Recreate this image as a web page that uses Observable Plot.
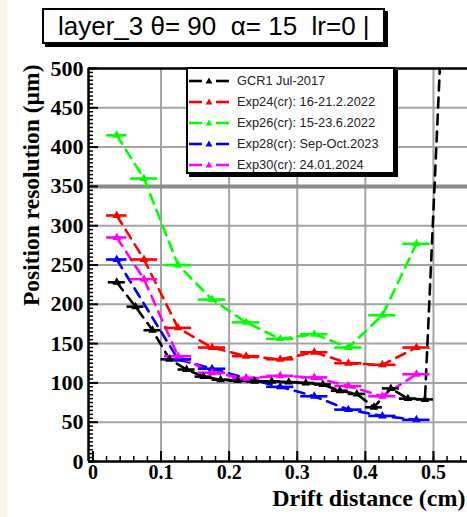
<!DOCTYPE html>
<html><head><meta charset="utf-8">
<script src="https://cdn.jsdelivr.net/npm/d3@7"></script>
<script src="https://cdn.jsdelivr.net/npm/@observablehq/plot@0.6"></script>
<style>
html,body{margin:0;padding:0;background:#fff;}
#wrap{position:relative;width:467px;height:517px;overflow:hidden;background:#fff;}
#chart{position:absolute;left:0;top:0;}
#title{position:absolute;left:42px;top:8px;width:325px;height:32px;border:2px solid #000;box-shadow:3px 3px 0 #000;background:#fff;
  font:26px "Liberation Sans",Arial,sans-serif;line-height:32px;padding-left:14px;white-space:pre;color:#000;}
#legend{position:absolute;left:186px;top:67px;width:205px;height:103px;border:2px solid #000;box-shadow:3px 3px 0 #000;background:#fff;}
.row{position:absolute;left:0;height:16px;width:205px;}
.row svg{position:absolute;left:1px;top:0;}
.row span{position:absolute;left:49px;top:0;line-height:16px;font:12.8px "Liberation Sans",Arial,sans-serif;color:#222;white-space:pre;}
.cream{position:absolute;background:#fdf6e8;}
</style></head>
<body>
<div id="wrap">
  <div id="chart"></div>
  <div id="title"></div>
  <div id="legend"></div>
  <div class="cream" style="left:0;top:0;width:7px;height:517px"></div>
</div>
<script>
// ---- data ----
const titleText = "layer_3 θ= 90  α= 15  lr=0 |";
const yTitle = "Position resolution (µm)";
const xTitle = "Drift distance (cm)";

const seriesNames = ["GCR1 Jul-2017", "Exp24(cr): 16-21.2.2022", "Exp26(cr): 15-23.6.2022", "Exp28(cr): Sep-Oct.2023", "Exp30(cr): 24.01.2024"];
const seriesColors = ["#000000", "#ff0000", "#00ff00", "#0000ff", "#ff00ff"];

const gcrX = [0.035, 0.0625, 0.0875, 0.1125, 0.1375, 0.1625, 0.1875, 0.2125, 0.2375, 0.2625, 0.2875, 0.3125, 0.3375, 0.3625, 0.3875, 0.4125, 0.4375, 0.4625, 0.4875, 0.5125];
const gcrY = [228, 197, 167, 130, 117, 108, 104, 103, 102, 102, 101, 100, 98, 90, 86, 69, 93, 80, 79, 560];
const gcrXerr = 0.0125;

const exp24X = [0.035, 0.075, 0.125, 0.175, 0.225, 0.275, 0.325, 0.375, 0.425, 0.475];
const exp24Y = [313, 257, 170, 145, 134, 130, 139, 125, 123, 145];
const exp26X = [0.035, 0.075, 0.125, 0.175, 0.225, 0.275, 0.325, 0.375, 0.425, 0.475];
const exp26Y = [415, 360, 250, 206, 177, 156, 162, 145, 186, 277];
const exp28X = [0.035, 0.125, 0.175, 0.225, 0.275, 0.325, 0.375, 0.425, 0.475];
const exp28Y = [257, 130, 118, 106, 95, 83, 66, 58, 53];
const exp30X = [0.035, 0.075, 0.125, 0.175, 0.225, 0.275, 0.325, 0.375, 0.425, 0.475];
const exp30Y = [285, 232, 134, 113, 106, 109, 107, 96, 83, 111];
const expXerr = 0.02;
const firstXerr = 0.015;

const xDomain = [-0.0065, 0.55];
const yDomain = [0, 500];
const xTicks = [0, 0.1, 0.2, 0.3, 0.4, 0.5];
const xTickLabels = ["0", "0.1", "0.2", "0.3", "0.4", "0.5"];
const yTicks = [0, 50, 100, 150, 200, 250, 300, 350, 400, 450, 500];
const yTickLabels = ["0", "50", "100", "150", "200", "250", "300", "350", "400", "450", "500"];
const xGrid = [0.1, 0.2, 0.3, 0.4, 0.5];
const yGrid = [50, 100, 150, 200, 250, 300, 400, 450];
const yHeavy = [350];
const xMinor = d3.range(0, 0.5501, 0.02);
const yMinor = d3.range(0, 500.1, 5);

// ---- build table ----
const raw = [
  [gcrX, gcrY, gcrXerr, false],
  [exp24X, exp24Y, expXerr, true],
  [exp26X, exp26Y, expXerr, true],
  [exp28X, exp28Y, expXerr, true],
  [exp30X, exp30Y, expXerr, true]
];
const data = [];
raw.forEach(([xs, ys, xe, firstNarrow], s) => {
  xs.forEach((x, i) => data.push({series: seriesNames[s], x, y: ys[i], xe: (firstNarrow && i === 0) ? firstXerr : xe}));
});

const W = 467, H = 517, mL = 88, mR = 0, mT = 68, mB = 56;
const plotW = W - mL - mR, plotH = H - mT - mB;
const serif = "'Liberation Serif','Times New Roman',serif";

const chart = Plot.plot({
  width: W, height: H,
  marginLeft: mL, marginRight: mR, marginTop: mT, marginBottom: mB,
  style: {fontFamily: serif, fontWeight: "bold", fontSize: "22px", background: "transparent", overflow: "visible"},
  x: {domain: xDomain, axis: null},
  y: {domain: yDomain, axis: null},
  color: {domain: seriesNames, range: seriesColors},
  marks: [
    Plot.ruleX(xGrid, {stroke: "#a3a3a3", strokeWidth: 2}),
    Plot.ruleY(yGrid, {stroke: "#a3a3a3", strokeWidth: 2}),
    Plot.ruleY(yHeavy, {stroke: "#8a8a8a", strokeWidth: 4}),
    Plot.line(data, {x: "x", y: "y", z: "series", stroke: "series", strokeWidth: 2.6, strokeDasharray: "10,7", clip: true}),
    Plot.ruleY(data, {y: "y", x1: d => d.x - d.xe, x2: d => d.x + d.xe, stroke: "series", strokeWidth: 2.6, clip: true}),
    Plot.dot(data, {x: "x", y: "y", fill: "series", symbol: "triangle", r: 3.2, clip: true}),
    // frame
    Plot.ruleX([xDomain[0]], {stroke: "#000", strokeWidth: 2.5}),
    Plot.ruleY(yDomain, {stroke: "#000", strokeWidth: 2.5}),
    // ticks (inside)
    Plot.tickY(yMinor, {y: d => d, insetRight: plotW - 5, stroke: "#000", strokeWidth: 1.5}),
    Plot.tickY(yTicks, {y: d => d, insetRight: plotW - 10, stroke: "#000", strokeWidth: 2}),
    Plot.tickX(xMinor, {x: d => d, insetTop: plotH - 5, stroke: "#000", strokeWidth: 1.5}),
    Plot.tickX(xTicks, {x: d => d, insetTop: plotH - 10, stroke: "#000", strokeWidth: 2}),
    // tick labels
    Plot.axisY(yTicks, {label: null, tickSize: 0, tickPadding: 5, tickFormat: d => yTickLabels[yTicks.indexOf(d)], fontSize: 22, fontWeight: "bold", fontFamily: serif}),
    Plot.axisX(xTicks, {label: null, tickSize: 0, tickPadding: 3, tickFormat: d => xTickLabels[xTicks.indexOf(d)], fontSize: 20, fontWeight: "bold", fontFamily: serif}),
    // axis titles
    Plot.text([yTitle], {frameAnchor: "top-left", rotate: -90, textAnchor: "end", dx: -66, dy: -4, fontSize: 23.5, fontWeight: "bold", fontFamily: serif}),
    Plot.text([xTitle], {frameAnchor: "bottom-right", textAnchor: "end", dx: -2, dy: 44, fontSize: 24, fontWeight: "bold", fontFamily: serif})
  ]
});
document.getElementById("chart").appendChild(chart);

document.getElementById("title").textContent = titleText;

const legend = document.getElementById("legend");
const rowCenters = [12, 33, 54, 75, 96];
seriesNames.forEach((name, i) => {
  const row = document.createElement("div");
  row.className = "row";
  row.style.top = (rowCenters[i] - 8) + "px";
  const c = seriesColors[i];
  row.innerHTML = `<svg width="44" height="16"><line x1="0" y1="8" x2="13" y2="8" stroke="${c}" stroke-width="2.6"/><line x1="27" y1="8" x2="40" y2="8" stroke="${c}" stroke-width="2.6"/><path d="M20,4.5 L23.5,10.5 L16.5,10.5 Z" fill="${c}"/></svg><span></span>`;
  row.querySelector("span").textContent = name;
  legend.appendChild(row);
});
</script>
</body></html>
